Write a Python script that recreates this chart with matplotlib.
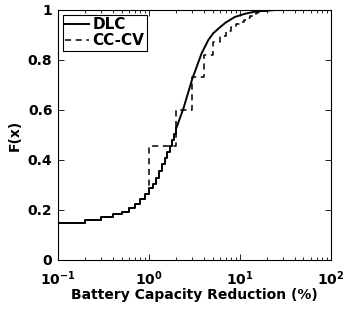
import numpy as np
import matplotlib
matplotlib.use("Agg")
import matplotlib.pyplot as plt
from matplotlib.ticker import LogLocator, FixedLocator

plt.rcParams['font.family'] = ['DejaVu Sans']
plt.rcParams['font.weight'] = 'bold'
plt.rcParams['mathtext.default'] = 'bf'

# DLC: fine steps at low values, then a smooth part
dlc_step_x = [0.1, 0.2, 0.3, 0.4, 0.5, 0.6, 0.7, 0.8, 0.9, 1.0,
              1.1, 1.2, 1.3, 1.4, 1.5, 1.6, 1.7, 1.8, 1.9, 2.0]
dlc_step_y = [0.149, 0.160, 0.171, 0.183, 0.193, 0.209, 0.224, 0.245, 0.263, 0.287,
              0.304, 0.327, 0.356, 0.384, 0.407, 0.433, 0.457, 0.480, 0.503, 0.527]
dlc_x = [2.0, 2.4, 3.0, 3.8, 4.5, 5.1, 6.0, 7.0, 8.8, 11.4, 15.0, 25.0, 100.0]
dlc_y = [0.527, 0.607, 0.725, 0.827, 0.880, 0.907, 0.930, 0.950, 0.972, 0.985, 0.994, 1.0, 1.0]

# CC-CV: follows DLC below 1, then integer steps
cc_x = [0.1, 0.2, 0.3, 0.4, 0.5, 0.6, 0.7, 0.8, 0.9,
        1, 2, 3, 4, 5, 6, 7, 8, 9, 10, 11, 12, 13, 14, 15, 16, 17, 18, 19, 20, 25, 100]
cc_y = [0.149, 0.160, 0.171, 0.183, 0.193, 0.209, 0.224, 0.245, 0.263,
        0.457, 0.600, 0.733, 0.820, 0.873, 0.897, 0.916, 0.930, 0.942, 0.953, 0.960,
        0.967, 0.975, 0.982, 0.987, 0.990, 0.993, 0.995, 0.997, 0.998, 1.0, 1.0]

fig = plt.figure(figsize=(3.45, 3.12), dpi=100)
ax = fig.add_axes([0.168, 0.167, 0.791, 0.801])

ax.step(cc_x, cc_y, where="post", color="k", ls=(0, (4, 3)), lw=1.1, label="CC-CV")
ax.step(dlc_step_x, dlc_step_y, where="post", color="k", lw=1.4)
l1, = ax.plot(dlc_x, dlc_y, color="k", lw=1.4, label="DLC")

ax.set_xscale("log")
ax.set_xlim(0.1, 100)
ax.set_ylim(0, 1)
ax.yaxis.set_major_locator(FixedLocator([0, 0.2, 0.4, 0.6, 0.8, 1.0]))
ax.set_yticklabels(["0", "0.2", "0.4", "0.6", "0.8", "1"])
ax.xaxis.set_minor_locator(LogLocator(base=10, subs=np.arange(2, 10)))
ax.tick_params(which="both", direction="in", top=True, right=True, labelsize=10)
ax.tick_params(which="major", length=4, width=0.6)
ax.tick_params(which="minor", length=2, width=0.6)
ax.tick_params(axis="x", which="major", pad=7)
ax.tick_params(axis="y", which="major", pad=4)
for s in ax.spines.values():
    s.set_linewidth(0.8)

ax.set_xlabel("Battery Capacity Reduction (%)", fontsize=10, fontweight="bold", labelpad=0)
ax.set_ylabel("F(x)", fontsize=10, fontweight="bold", labelpad=4)

h, lab = ax.get_legend_handles_labels()
leg = ax.legend([l1, h[0]], ["DLC", "CC-CV"], loc="upper left", fontsize=11,
                handlelength=1.6, handletextpad=0.2, borderpad=0.15, labelspacing=0.1,
                borderaxespad=0.3, fancybox=False, framealpha=1)
leg.get_frame().set_edgecolor("k")
leg.get_frame().set_linewidth(0.8)
for t in leg.get_texts():
    t.set_fontweight("bold")

fig.savefig("out.png", dpi=100)
